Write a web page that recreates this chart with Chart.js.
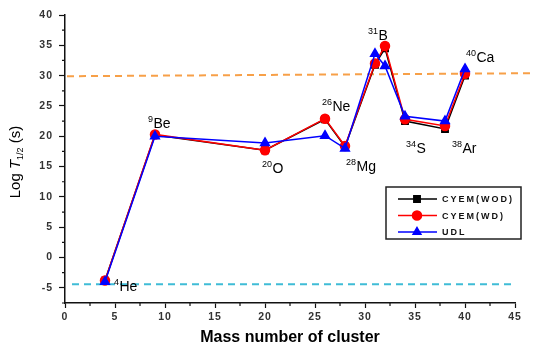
<!DOCTYPE html>
<html>
<head>
<meta charset="utf-8">
<script src="https://cdn.jsdelivr.net/npm/chart.js@4/dist/chart.umd.min.js"></script>
<style>
  html, body { margin: 0; padding: 0; background: #fff; }
  #wrap { width: 535px; height: 346px; position: relative; }
</style>
</head>
<body>
<div id="wrap"><canvas id="chart"></canvas></div>
<script>
// cluster mass numbers
var massNumbers = [4, 9, 20, 26, 28, 31, 32, 34, 38, 40];
// log half-lives
var cyemWod = [-3.8, 20.2, 17.7, 22.8, 18.3, 31.8, 34.5, 22.5, 21.2, 30.0];
var cyemWd  = [-3.8, 20.3, 17.7, 22.9, 18.4, 32.0, 34.9, 22.8, 21.7, 30.3];
var udl     = [-4.0, 20.0, 18.9, 20.1, 18.0, 33.6, 31.6, 23.3, 22.5, 31.1];

// dashed reference lines (x, y pairs)
var upperLine = [[0.2, 29.9], [47, 30.4]];
var lowerLine = [[0.7, -4.4], [44.7, -4.4]];

// cluster labels: mass, symbol, x, y (baseline-left in data units)
var labelIso = ['4', '9', '20', '26', '28', '31', '34', '38', '40'];
var labelSym = ['He', 'Be', 'O', 'Ne', 'Mg', 'B', 'S', 'Ar', 'Ca'];
var labelX   = [4.9, 8.3, 19.7, 25.7, 28.1, 30.3, 34.1, 38.7, 40.1];
var labelY   = [-5.5, 21.3, 14.0, 24.1, 14.2, 35.9, 17.3, 17.3, 32.2];

var seriesNames = ['CYEM(WOD)', 'CYEM(WD)', 'UDL'];
var FONT = '"Liberation Sans", Arial, sans-serif';

function pts(ys) {
    return massNumbers.map(function(x, i) { return {x: x, y: ys[i]}; });
}
function pairs(p) {
    return p.map(function(a) { return {x: a[0], y: a[1]}; });
}
function isMajor(v) { return Math.abs(v % 5) < 1e-9; }

var extras = {
    id: 'extras',
    beforeDraw: function(chart) {
        chart.ctx.letterSpacing = '1px';
    },
    afterDraw: function(chart) {
        var ctx = chart.ctx;
        var xs = chart.scales.x, ys = chart.scales.y;
        var area = chart.chartArea;
        ctx.save();
        ctx.letterSpacing = '0px';

        // minor ticks
        ctx.strokeStyle = '#111';
        ctx.lineWidth = 1.2;
        ctx.beginPath();
        xs.ticks.forEach(function(t) {
            if (!isMajor(t.value)) {
                var p = xs.getPixelForValue(t.value);
                ctx.moveTo(p, area.bottom);
                ctx.lineTo(p, area.bottom + 3);
            }
        });
        ys.ticks.forEach(function(t) {
            if (!isMajor(t.value)) {
                var p = ys.getPixelForValue(t.value);
                ctx.moveTo(area.left, p);
                ctx.lineTo(area.left - 3, p);
            }
        });
        ctx.stroke();

        ctx.fillStyle = '#000';
        ctx.textBaseline = 'alphabetic';
        ctx.textAlign = 'left';
        // cluster labels
        for (var i = 0; i < labelSym.length; i++) {
            var px = xs.getPixelForValue(labelX[i]);
            var py = ys.getPixelForValue(labelY[i]);
            ctx.font = '9px ' + FONT;
            ctx.fillText(labelIso[i], px, py - 6);
            var w = ctx.measureText(labelIso[i]).width;
            ctx.font = '14px ' + FONT;
            ctx.fillText(labelSym[i], px + w + 0.5, py);
        }

        // x axis title
        ctx.font = 'bold 16px ' + FONT;
        ctx.textAlign = 'center';
        ctx.fillText('Mass number of cluster', (area.left + area.right) / 2, 342);

        // y axis title
        ctx.textAlign = 'left';
        ctx.save();
        ctx.translate(20, 162);
        ctx.rotate(-Math.PI / 2);
        var parts = [
            ['Log ', '15px ' + FONT, 0],
            ['T', 'italic 15px ' + FONT, 0],
            ['1/2', '9px ' + FONT, 3],
            [' (s)', '15px ' + FONT, 0]
        ];
        var total = 0;
        parts.forEach(function(p) { ctx.font = p[1]; total += ctx.measureText(p[0]).width; });
        var cx = -total / 2;
        parts.forEach(function(p) {
            ctx.font = p[1];
            ctx.fillText(p[0], cx, p[2]);
            cx += ctx.measureText(p[0]).width;
        });
        ctx.restore();

        // legend
        var bx = 386, by = 187, bw = 135, bh = 52;
        ctx.fillStyle = '#fff';
        ctx.fillRect(bx, by, bw, bh);
        ctx.strokeStyle = '#222';
        ctx.lineWidth = 1.5;
        ctx.strokeRect(bx, by, bw, bh);
        ctx.font = 'bold 9px ' + FONT;
        ctx.letterSpacing = '2px';
        ctx.textBaseline = 'middle';
        for (var k = 0; k < 3; k++) {
            var ds = chart.data.datasets[k];
            var ry = by + 12 + k * 16.5;
            ctx.strokeStyle = ds.borderColor;
            ctx.lineWidth = 1.5;
            ctx.beginPath();
            ctx.moveTo(bx + 12, ry);
            ctx.lineTo(bx + 51, ry);
            ctx.stroke();
            Chart.helpers.drawPoint(ctx, {
                pointStyle: ds.pointStyle,
                radius: 4.5,
                borderWidth: 1
            }, bx + 31, ry);
            ctx.fillStyle = ds.pointBackgroundColor;
            ctx.strokeStyle = ds.borderColor;
            ctx.fill();
            ctx.fillStyle = '#111';
            ctx.fillText(seriesNames[k], bx + 56, ry + 1);
        }
        ctx.restore();
    }
};

var tickFont = { family: FONT, size: 10.5, weight: 'bold' };

new Chart('chart', {
    type: 'scatter',
    data: {
        datasets: [
            {
                label: seriesNames[0], data: pts(cyemWod), showLine: true,
                borderColor: '#000', backgroundColor: '#000', pointBackgroundColor: '#000',
                pointStyle: 'rect', pointRadius: 4.5, borderWidth: 1.5, order: 3
            },
            {
                label: seriesNames[1], data: pts(cyemWd), showLine: true,
                borderColor: '#ff0000', backgroundColor: '#ff0000', pointBackgroundColor: '#ff0000',
                pointStyle: 'circle', pointRadius: 4.5, borderWidth: 1.5, order: 2
            },
            {
                label: seriesNames[2], data: pts(udl), showLine: true,
                borderColor: '#0000ff', backgroundColor: '#0000ff', pointBackgroundColor: '#0000ff',
                pointStyle: 'triangle', pointRadius: 5, borderWidth: 1.5, order: 1
            },
            {
                label: 'upper', data: pairs(upperLine), showLine: true, clip: false,
                borderColor: '#f7a048', borderWidth: 2, borderDash: [7, 5],
                pointRadius: 0, order: 5
            },
            {
                label: 'lower', data: pairs(lowerLine), showLine: true, clip: false,
                borderColor: '#3fbcd6', borderWidth: 2, borderDash: [7, 5],
                pointRadius: 0, order: 5
            }
        ]
    },
    options: {
        responsive: true,
        maintainAspectRatio: false,
        animation: false,
        layout: { padding: { top: 15, right: 20, left: 0, bottom: 0 } },
        plugins: {
            legend: { display: false },
            tooltip: { enabled: false }
        },
        scales: {
            x: {
                type: 'linear',
                min: 0, max: 45,
                afterFit: function(s) { s.height = 43; },
                border: { display: true, color: '#111', width: 1.5 },
                grid: {
                    drawOnChartArea: false, tickLength: 5, tickWidth: 1.2,
                    tickColor: function(c) { return isMajor(c.tick.value) ? '#111' : 'rgba(0,0,0,0)'; }
                },
                ticks: {
                    stepSize: 2.5, autoSkip: false, maxRotation: 0, padding: 3,
                    color: '#333', font: tickFont,
                    callback: function(v) { return isMajor(v) ? v : ''; }
                }
            },
            y: {
                type: 'linear',
                min: -7.5, max: 40,
                afterFit: function(s) { s.width = 65; },
                border: { display: true, color: '#111', width: 1.5 },
                grid: {
                    drawOnChartArea: false, tickLength: 6, tickWidth: 1.2,
                    tickColor: function(c) { return isMajor(c.tick.value) ? '#111' : 'rgba(0,0,0,0)'; }
                },
                ticks: {
                    stepSize: 2.5, autoSkip: false, padding: 6,
                    color: '#333', font: tickFont,
                    callback: function(v) { return isMajor(v) ? v : ''; }
                }
            }
        }
    },
    plugins: [extras]
});
</script>
</body>
</html>
